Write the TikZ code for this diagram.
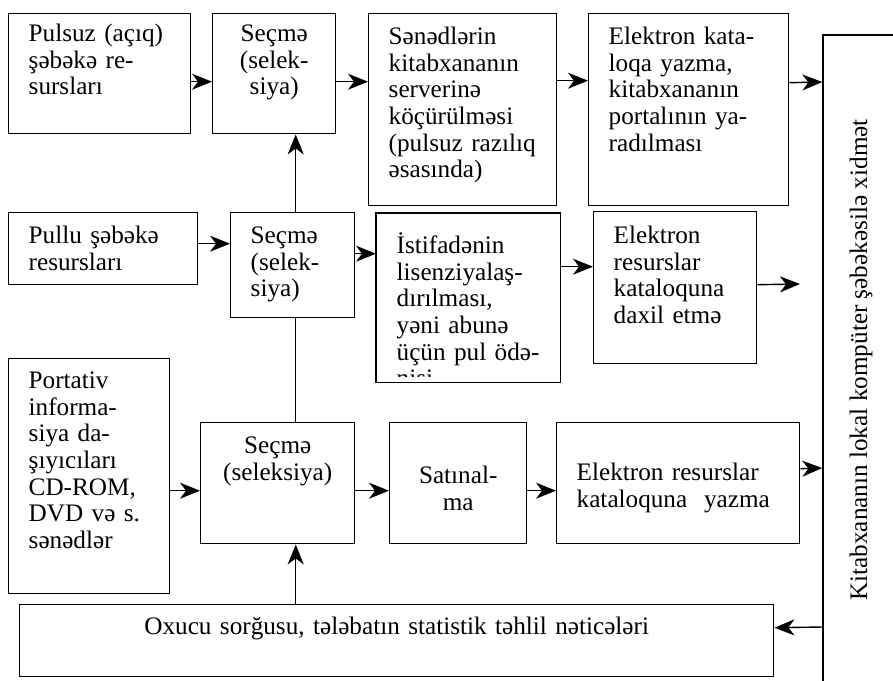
\documentclass[tikz,border=0pt]{standalone}
\usepackage{fontspec}
\setmainfont{Liberation Serif}
\usetikzlibrary{arrows.meta}
\hyphenpenalty=10000
\exhyphenpenalty=10000
\tikzset{
  blok/.style={
      draw,
      line width=0.7pt,
      anchor=north west,
      inner xsep=10pt,
      inner ysep=0pt,
      text height=15pt,
      align=left,
      font=\fontsize{12.6}{13.3}\selectfont
  },
  blokc/.style={
      blok,
      align=center
  },
  arr/.style={
      line width=0.7pt,
      -{Stealth[length=10pt,width=8pt,inset=3pt]}
  }
}

\begin{document}
\begin{tikzpicture}[x=0.5pt,y=-0.5pt]
    \useasboundingbox (0,0) rectangle (893,680);
    \clip (0,0) rectangle (893,680);
    % top row
    \node[blok, text width=71pt, text height=14pt, text depth=46pt] (pulsuz) at (8,13)
        {Pulsuz (açıq)\\şəbəkə re-\\sursları};
    \node[blokc, inner xsep=5pt, text width=51.5pt, text height=14pt, text depth=46pt] (secme1) at (212,13)
        {Seçmə\\(selek-\\siya)};
    \node[blok, text width=74pt, text height=15.5pt, text depth=80.5pt] (kocur) at (368,13)
        {Sənədlərin\\kitabxananın\\serverinə\\köçürülməsi\\(pulsuz razılıq\\əsasında)};
    \node[blok, text width=80pt, text height=15.5pt, text depth=80.5pt] (katalog) at (588,13)
        {Elektron kata-\\loqa yazma,\\kitabxananın\\portalının ya-\\radılması};
    % middle row
    \node[blok, text width=74.5pt, text height=15.5pt, text depth=20.5pt] (pullu) at (8,212)
        {Pullu şəbəkə\\resursları};
    \node[blok, text width=42pt, text height=15.5pt, text depth=37pt] (secme2) at (230,212)
        {Seçmə\\(selek-\\siya)};
    \begin{scope}
        \clip (370,205) rectangle (565,376);
        \node[blok, draw=none, text width=71.5pt, text height=20pt, text depth=64pt] (lisenz) at (376,213)
            {İstifadənin\\lisenziyalaş-\\dırılması,\\yəni abunə\\üçün pul ödə-\\nisi};
    \end{scope}
    \draw[line width=0.7pt] (lisenz.north west) rectangle (lisenz.south east);
    \node[blok, text width=61.5pt, text height=16pt, text depth=60pt] (daxil) at (593,211)
        {Elektron\\resurslar\\kataloquna\\daxil etmə};
    % bottom row
    \node[blok, text width=60.5pt, text height=15pt, text depth=102.5pt] (portativ) at (8,358)
        {Portativ\\informa-\\siya da-\\şıyıcıları\\CD-ROM,\\DVD və s.\\sənədlər};
    \node[blokc, text width=57pt, text height=15.5pt, text depth=45pt] (secme3) at (200,422)
        {Seçmə\\(seleksiya)};
    \node[blokc, text width=48.5pt, text height=30.5pt, text depth=30pt] (satinal) at (389,422)
        {Satınal-\\ma};
    \node[blok, text width=101.5pt, text height=29pt, text depth=31.5pt] (yazma) at (556,422)
        {Elektron resurslar\\kataloquna~~yazma};
    \node[blokc, text width=357pt, text height=15pt, text depth=21pt] (oxucu) at (19,604)
        {Oxucu sorğusu, tələbatın statistik təhlil nəticələri};
    % right bar
    \node[draw, line width=0.7pt, rotate=90, minimum width=325pt, minimum height=38pt, inner sep=0pt,
          font=\fontsize{12.6}{13.3}\selectfont] (xidmet) at (861,360)
        {Kitabxananın lokal kompüter şəbəkəsilə xidmət};
    \coordinate (bos) at (800,284);

    % connectors
    \draw[arr] ([yshift=-4pt]pulsuz.east) -- ([yshift=-4pt]secme1.west);
    \draw[arr] ([yshift=-4pt]secme1.east) -- ([yshift=14pt]kocur.west);
    \draw[arr] ([yshift=14.5pt]kocur.east) -- ([yshift=14.5pt]katalog.west);
    \draw[arr] ([yshift=13.5pt]katalog.east) -- ([yshift=139pt]xidmet.north);
    \draw[arr] ([yshift=2.5pt]pullu.east) -- ([yshift=10.75pt]secme2.west);
    \draw[arr] ([yshift=5.75pt]secme2.east) -- ([yshift=22pt]lisenz.west);
    \draw[arr] ([yshift=15.5pt]lisenz.east) -- ([yshift=10.5pt]daxil.west);
    \draw[arr] ([yshift=1.5pt]daxil.east) -- (bos);
    \draw[arr] ([yshift=-7.25pt]portativ.east) -- ([yshift=-3.75pt]secme3.west);
    \draw[arr] ([yshift=-3.75pt]secme3.east) -- ([yshift=-3.75pt]satinal.west);
    \draw[arr] ([yshift=-3.75pt]satinal.east) -- ([yshift=-3.75pt]yazma.west);
    \draw[arr] ([yshift=7.25pt]yazma.east) -- ([yshift=-54pt]xidmet.north);
    \draw[arr] ([yshift=-133.5pt]xidmet.north) -- ([yshift=6.5pt]oxucu.east);
    \draw[arr] ([xshift=1.5pt]secme2.north) -- ([xshift=10.75pt]secme1.south);
    \draw[line width=0.7pt] ([xshift=9pt]secme3.north) -- ([xshift=1.5pt]secme2.south);
    \draw[arr] ([xshift=-50.5pt]oxucu.north) -- ([xshift=9pt]secme3.south);
\end{tikzpicture}
\end{document}
